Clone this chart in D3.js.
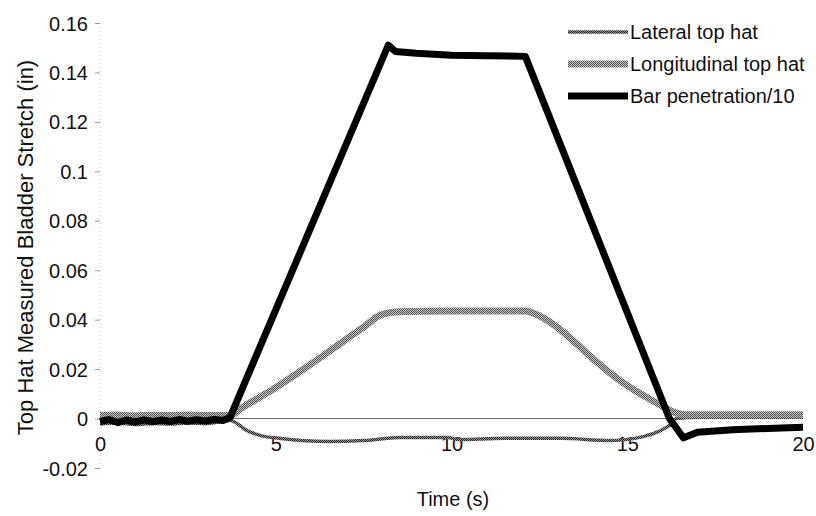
<!DOCTYPE html>
<html>
<head>
<meta charset="utf-8">
<script src="https://cdn.jsdelivr.net/npm/d3@7"></script>
<style>
  html, body { margin: 0; padding: 0; background: #fff; }
  svg { display: block; }
  text { font-family: "Liberation Sans", Arial, Helvetica, sans-serif; fill: #111; }
</style>
</head>
<body>
<svg id="chart" width="816" height="516"></svg>
<script>
// ---- data ----
const xTicks = [0, 5, 10, 15, 20];
const yTicks = [-0.02, 0, 0.02, 0.04, 0.06, 0.08, 0.1, 0.12, 0.14, 0.16];
const yTickLabels = ["-0.02", "0", "0.02", "0.04", "0.06", "0.08", "0.1", "0.12", "0.14", "0.16"];
const seriesNames = ["Lateral top hat", "Longitudinal top hat", "Bar penetration/10"];

const lateralTime  = [0, 0.5, 1, 1.5, 2, 2.5, 3, 3.7, 4.2, 4.6, 5.1, 6.5, 7.5, 8.5, 9.9, 10.2, 11.5, 13.1, 14.5, 15.45, 15.9, 16.2, 16.4, 17, 18, 20];
const lateralValue = [-0.0022, -0.0018, -0.0024, -0.002, -0.0022, -0.0018, -0.002, -0.0008, -0.005, -0.007, -0.008, -0.0093, -0.0089, -0.0077, -0.0077, -0.0085, -0.008, -0.008, -0.0089, -0.0073, -0.0052, -0.0028, 0, 0.0005, 0.0005, 0.0005];

const longTime  = [0, 0.5, 1, 1.5, 2, 2.5, 3, 3.7, 4, 5, 6, 7, 7.5, 8, 8.5, 10, 12.1, 12.5, 13, 13.5, 14, 14.5, 15, 15.5, 16, 16.4, 16.7, 18, 20];
const longValue = [0.0012, 0.0014, 0.0011, 0.0013, 0.0012, 0.0014, 0.0012, 0.0012, 0.004, 0.0125, 0.022, 0.032, 0.037, 0.042, 0.0432, 0.0435, 0.0435, 0.0415, 0.037, 0.031, 0.0245, 0.0185, 0.0133, 0.009, 0.005, 0.0022, 0.0015, 0.0015, 0.0015];

const barTime  = [0, 0.25, 0.5, 0.75, 1, 1.25, 1.5, 1.75, 2, 2.25, 2.5, 2.75, 3, 3.25, 3.5, 3.7, 8.2, 8.4, 9, 10, 11, 12.1, 16.2, 16.6, 17, 18, 19, 20];
const barValue = [-0.0012, -0.0004, -0.0016, -0.0006, -0.0014, -0.0005, -0.0013, -0.0006, -0.0012, -0.0004, -0.0011, -0.0005, -0.0010, -0.0004, -0.0008, 0.0005, 0.151, 0.1485, 0.1478, 0.147, 0.1468, 0.1465, 0, -0.0078, -0.0055, -0.0045, -0.004, -0.0035];

// ---- layout ----
const svg = d3.select("#chart");
const x = d3.scaleLinear().domain([0, 20]).range([100, 803]);
const y = d3.scaleLinear().domain([-0.02, 0.16]).range([468, 23]);
const fontSize = 20;

// checker patterns to imitate the halftone strokes
const defs = svg.append("defs");
function checker(id, dark, light) {
  const p = defs.append("pattern").attr("id", id).attr("patternUnits", "userSpaceOnUse")
    .attr("width", 2).attr("height", 2);
  p.append("rect").attr("width", 2).attr("height", 2).attr("fill", light);
  p.append("rect").attr("width", 1).attr("height", 1).attr("fill", dark);
  p.append("rect").attr("x", 1).attr("y", 1).attr("width", 1).attr("height", 1).attr("fill", dark);
}
checker("latPat", "#222", "#999");
checker("longPat", "#555", "#c4c4c4");

// y axis: dotted light line + small ticks on the left
svg.append("line")
  .attr("x1", x(0)).attr("x2", x(0)).attr("y1", y(0.16)).attr("y2", y(-0.02))
  .attr("stroke", "#bbb").attr("stroke-width", 1).attr("stroke-dasharray", "1,3");
const yAxis = d3.axisLeft(y).tickValues(yTicks)
  .tickFormat((d, i) => yTickLabels[i]).tickSize(5).tickPadding(7);
const gy = svg.append("g").attr("transform", `translate(${x(0)},0)`).call(yAxis);
gy.select(".domain").remove();
gy.selectAll(".tick line").attr("stroke", "#999");
gy.selectAll(".tick text").style("font-size", fontSize + "px")
  .style("font-family", "'Liberation Sans', Arial, sans-serif").attr("fill", "#111").attr("dy", "0.35em");

// x axis: thin line at zero, labels below
svg.append("line")
  .attr("x1", x(0)).attr("x2", x(20)).attr("y1", y(0)).attr("y2", y(0))
  .attr("stroke", "#666").attr("stroke-width", 1);
const xAxis = d3.axisBottom(x).tickValues(xTicks).tickFormat(d3.format("d")).tickSize(0).tickPadding(0);
const gx = svg.append("g").attr("transform", `translate(0,${y(0)})`).call(xAxis);
gx.select(".domain").remove();
gx.selectAll(".tick text").style("font-size", fontSize + "px")
  .style("font-family", "'Liberation Sans', Arial, sans-serif").attr("fill", "#111").attr("dy", "1.6em").attr("y", 0);

// axis titles
svg.append("text")
  .attr("transform", `translate(33,${(y(0.16) + y(-0.02)) / 2 + 2}) rotate(-90)`)
  .attr("text-anchor", "middle").style("font-size", "22px")
  .text("Top Hat Measured Bladder Stretch (in)");
svg.append("text")
  .attr("x", 453).attr("y", 506).attr("text-anchor", "middle").style("font-size", fontSize + "px")
  .text("Time (s)");

// series
const series = [
  { name: seriesNames[0], t: lateralTime, v: lateralValue, stroke: "url(#latPat)", width: 3.5, curve: d3.curveMonotoneX },
  { name: seriesNames[1], t: longTime, v: longValue, stroke: "url(#longPat)", width: 7, curve: d3.curveMonotoneX },
  { name: seriesNames[2], t: barTime, v: barValue, stroke: "#000", width: 7, curve: d3.curveLinear }
];
series.forEach(s => {
  const line = d3.line().x(d => x(d[0])).y(d => y(d[1])).curve(s.curve);
  svg.append("path")
    .datum(d3.zip(s.t, s.v))
    .attr("d", line)
    .attr("fill", "none")
    .attr("stroke", s.stroke)
    .attr("stroke-width", s.width)
    .attr("stroke-linejoin", "round")
    .attr("stroke-linecap", "butt");
});

// legend
const legendY = [32, 64, 96];
series.forEach((s, i) => {
  const g = svg.append("g");
  g.append("line").attr("x1", 568).attr("x2", 628).attr("y1", legendY[i]).attr("y2", legendY[i])
    .attr("stroke", s.stroke).attr("stroke-width", i === 0 ? 3.5 : 7);
  g.append("text").attr("x", 630).attr("y", legendY[i]).attr("dy", "0.36em")
    .style("font-size", fontSize + "px").text(s.name);
});
</script>
</body>
</html>
